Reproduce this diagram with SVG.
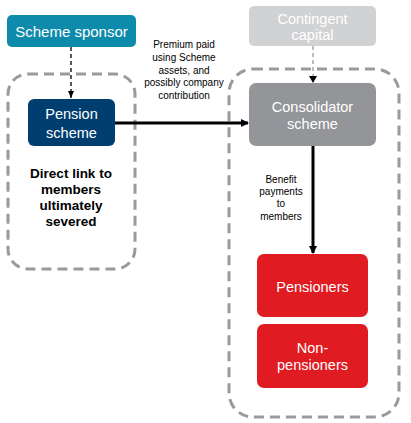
<svg xmlns="http://www.w3.org/2000/svg" width="411" height="423" viewBox="0 0 411 423">
<style>
.node text{font-family:"Liberation Sans",Arial,sans-serif;fill:#fff;font-size:14.5px;text-anchor:middle}
.grp{fill:none;stroke:#999a9c;stroke-width:3;stroke-dasharray:10,6}
.lbl{font-family:"Liberation Sans",Arial,sans-serif;font-size:10px;fill:#000;text-anchor:middle}
.bold{font-family:"Liberation Sans",Arial,sans-serif;font-size:13.5px;font-weight:bold;fill:#000;text-anchor:middle}
</style>
<defs>
<marker id="ah" markerWidth="8" markerHeight="8" refX="7" refY="4" orient="auto" markerUnits="userSpaceOnUse">
<path d="M0,0 L8,4 L0,8 z" fill="#000"/>
</marker>
<marker id="ahs" markerWidth="8" markerHeight="8" refX="7" refY="4" orient="auto" markerUnits="userSpaceOnUse">
<path d="M0,1 L7,4 L0,7 z" fill="#000"/>
</marker>
</defs>
<rect class="grp" x="8" y="74" width="127" height="195" rx="20"/>
<rect class="grp" x="229" y="69" width="170" height="348" rx="24"/>
<g id="connectors">
<line x1="71" y1="47" x2="71" y2="98" stroke="#000" stroke-width="1.3" stroke-dasharray="4,3" marker-end="url(#ahs)"/>
<line x1="313" y1="46" x2="313" y2="82" stroke="#999a9c" stroke-width="1.3" stroke-dasharray="4,3"/>
<path d="M309,76 L317,76 L313,83 z" fill="#000"/>
<line x1="115" y1="123" x2="248" y2="123" stroke="#000" stroke-width="3" marker-end="url(#ah)"/>
<line x1="313" y1="146" x2="313" y2="253" stroke="#000" stroke-width="3" marker-end="url(#ah)"/>
<text class="lbl"><tspan x="184" y="48">Premium paid</tspan><tspan x="184" y="61">using Scheme</tspan><tspan x="184" y="73.5">assets, and</tspan><tspan x="184" y="86">possibly company</tspan><tspan x="184" y="98.5">contribution</tspan></text>
<text class="lbl"><tspan x="281" y="182.5">Benefit</tspan><tspan x="281" y="195">payments</tspan><tspan x="281" y="207">to</tspan><tspan x="281" y="220">members</tspan></text>
</g>
<g id="sponsor" class="node"><rect x="7" y="15" width="129" height="32" rx="5" fill="#0e8aab"/><text x="71.5" y="36.5" style="font-size:15px">Scheme sponsor</text></g>
<g id="contingent" class="node"><rect x="249" y="6" width="127" height="40" rx="5" fill="#d1d2d3"/><text x="312.5" y="23.5">Contingent</text><text x="312.5" y="39.5">capital</text></g>
<g id="pension" class="node"><rect x="28" y="99" width="87" height="47" rx="6" fill="#003e70"/><text x="71.5" y="119">Pension</text><text x="71.5" y="138">scheme</text></g>
<g id="note"><text class="bold"><tspan x="71" y="178">Direct link to</tspan><tspan x="71" y="194">members</tspan><tspan x="71" y="210">ultimately</tspan><tspan x="71" y="226">severed</tspan></text></g>
<g id="consolidator" class="node"><rect x="249" y="83" width="127" height="63" rx="7" fill="#939598"/><text x="312.5" y="112">Consolidator</text><text x="312.5" y="128.5">scheme</text></g>
<g id="pensioners" class="node"><rect x="257" y="254" width="111" height="63" rx="7" fill="#e01b22"/><text x="312.5" y="292">Pensioners</text></g>
<g id="nonpensioners" class="node"><rect x="257" y="324" width="111" height="64" rx="7" fill="#e01b22"/><text x="312.5" y="353">Non-</text><text x="312.5" y="370">pensioners</text></g>
</svg>
